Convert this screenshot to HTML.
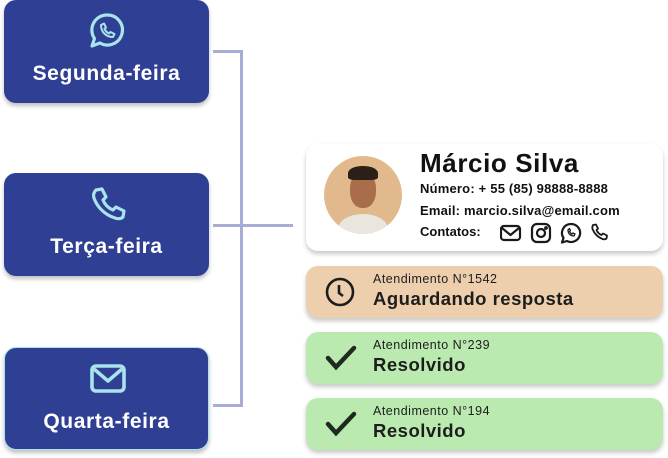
<!DOCTYPE html>
<html><head><meta charset="utf-8"><style>
body{margin:0;width:668px;height:458px;background:#fff;position:relative;overflow:hidden;font-family:"Liberation Sans",sans-serif}
.b{position:absolute;left:4px;width:205px;height:103px;background:#2f3f93;border-radius:12px;box-shadow:0 3px 4px rgba(0,0,0,.25);color:#fff;font-size:21px;font-weight:bold;text-align:center;letter-spacing:.6px}
.b svg{position:absolute;left:83px;top:11px}
.b span{position:absolute;left:0;right:0;top:62px}
.l{position:absolute;background:#a7acd5}
.c{position:absolute;left:306px;width:357px;border-radius:12px;box-shadow:0 3px 5px rgba(0,0,0,.22)}
.s{height:52px;color:#1d1d1d}
.s .t{position:absolute;left:67px;top:6px;font-size:12.5px;letter-spacing:.5px}
.s .m{position:absolute;left:67px;top:22px;font-size:18.5px;font-weight:bold;letter-spacing:.5px}
.s svg{position:absolute;left:18px;top:10px}
</style></head><body>
<div class="l" style="left:213px;top:50px;width:30px;height:3px"></div>
<div class="l" style="left:240px;top:50px;width:3px;height:357px"></div>
<div class="l" style="left:213px;top:224px;width:80px;height:3px"></div>
<div class="l" style="left:213px;top:404px;width:30px;height:3px"></div>

<div class="b" style="top:0">
<svg width="40" height="40" viewBox="0 0 40 40" fill="none" stroke="#a9e3ec" stroke-width="3.2" stroke-linejoin="round"><path d="M20 4a15 15 0 1 1-7 28L5 35l2.5-7.5A15 15 0 0 1 20 4z"/><path d="M14 14c0 7 5 12 12 12l1.5-3-4-2-1.5 1.5c-2-1-3.5-2.5-4.5-4.5L19 16.5l-2-4z" stroke-width="2"/></svg>
<span>Segunda-feira</span></div>
<div class="b" style="top:173px">
<svg width="40" height="40" viewBox="0 0 40 40" fill="none" stroke="#a9e3ec" stroke-width="3.2" stroke-linejoin="round"><path d="M9 6l6-1 4 8-3 3c2 5 5 8 10 10l3-3 8 4-1 6c-2 2-5 2-8 1C18 31 10 23 7 14c-1-3-0-6 2-8z"/></svg>
<span>Terça-feira</span></div>
<div class="b" style="top:347px;border:1px solid #a9e3ec;box-sizing:border-box">
<svg width="40" height="40" viewBox="0 0 40 40" fill="none" stroke="#a9e3ec" stroke-width="3.6" stroke-linejoin="round"><rect x="4" y="7" width="32" height="25" rx="4"/><path d="M6 10l14 12 14-12"/></svg>
<span>Quarta-feira</span></div>

<div class="c" style="top:144px;height:107px;background:#fff">
<div style="position:absolute;left:18px;top:12px;width:78px;height:78px;border-radius:50%;background:#e2b98c;overflow:hidden">
<div style="position:absolute;left:14px;top:58px;width:50px;height:30px;border-radius:50% 50% 0 0;background:#e9e6dd"></div>
<div style="position:absolute;left:26px;top:16px;width:26px;height:36px;border-radius:45%;background:#a86e4c"></div>
<div style="position:absolute;left:24px;top:10px;width:30px;height:14px;border-radius:50% 50% 20% 20%;background:#2b2018"></div>
</div>
<div style="position:absolute;left:114px;top:4px;font-size:26px;font-weight:bold;color:#111;letter-spacing:.6px">Márcio Silva</div>
<div style="position:absolute;left:114px;top:37px;font-size:13px;font-weight:bold;color:#111;letter-spacing:.2px">Número: + 55 (85) 98888-8888</div>
<div style="position:absolute;left:114px;top:59px;font-size:13px;font-weight:bold;color:#111;letter-spacing:.2px">Email: marcio.silva@email.com</div>
<div style="position:absolute;left:114px;top:80px;font-size:13px;font-weight:bold;color:#111">Contatos:</div>
<svg style="position:absolute;left:194px;top:78px" width="112" height="22" viewBox="0 0 112 22" fill="none" stroke="#1a1a1a" stroke-width="2.2" stroke-linejoin="round">
<rect x="1" y="4" width="19" height="14" rx="3"/><path d="M2 6l8.5 7 8.5-7"/>
<rect x="32" y="2" width="18" height="18" rx="5"/><circle cx="41" cy="11" r="4"/><circle cx="46" cy="6" r=".8" fill="#1a1a1a"/>
<path d="M71 2a9 9 0 1 1-4 17l-5 1.5 1.5-4.5A9 9 0 0 1 71 2z"/><path d="M68 8c0 4 3 6 6 6l1-2-2-1-1 1c-1-.5-2-1.5-2.5-2.5l1-1-1-2z" stroke-width="1.3"/>
<path d="M93 3l3-.5 2 4-1.5 1.5c1 2.5 2.5 4 5 5l1.5-1.5 4 2-.5 3c-1 1-2.5 1-4 .5-5-2-8-5-10-10-.5-1.5 0-3 .5-4z" stroke-width="1.8"/>
</svg>
</div>

<div class="c s" style="top:266px;background:#edcfad">
<svg width="32" height="32" viewBox="0 0 32 32" fill="none" stroke="#1d1d1d" stroke-width="2.6"><circle cx="16" cy="16" r="13"/><path d="M15 9v8l4 3"/></svg>
<div class="t">Atendimento N°1542</div><div class="m">Aguardando resposta</div></div>
<div class="c s" style="top:332px;background:#bbeab0">
<svg width="34" height="32" viewBox="0 0 34 32" fill="none" stroke="#1f2a1f" stroke-width="4.5" stroke-linecap="round"><path d="M4 16l8 9L30 6"/></svg>
<div class="t">Atendimento N°239</div><div class="m">Resolvido</div></div>
<div class="c s" style="top:398px;background:#bbeab0">
<svg width="34" height="32" viewBox="0 0 34 32" fill="none" stroke="#1f2a1f" stroke-width="4.5" stroke-linecap="round"><path d="M4 16l8 9L30 6"/></svg>
<div class="t">Atendimento N°194</div><div class="m">Resolvido</div></div>
</body></html>
